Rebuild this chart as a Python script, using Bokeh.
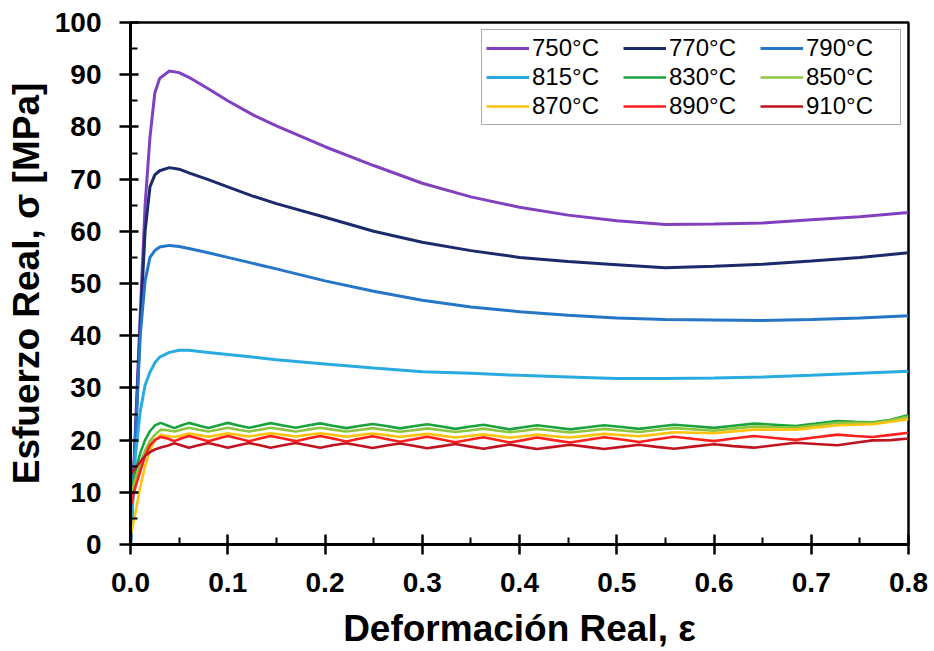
from bokeh.plotting import figure
from bokeh.models import FixedTicker, Legend, LegendItem, Range1d, NumeralTickFormatter
from bokeh.embed import file_html
from bokeh.resources import INLINE

# ---------------- data ----------------
x_ticks = [0.0, 0.1, 0.2, 0.3, 0.4, 0.5, 0.6, 0.7, 0.8]
x_minor = [0.05, 0.15, 0.25, 0.35, 0.45, 0.55, 0.65, 0.75]
y_ticks = [0, 10, 20, 30, 40, 50, 60, 70, 80, 90, 100]
y_minor = [5, 15, 25, 35, 45, 55, 65, 75, 85, 95]

labels = ["750°C", "770°C", "790°C", "815°C", "830°C", "850°C", "870°C", "890°C", "910°C"]
colors = ["#8040c0", "#1b2a6b", "#2575c8", "#29abe2", "#1aa33c", "#8cc63f", "#ffc20e", "#ff1e1e", "#c1121f"]

strain_hi = [0, 0.005, 0.01, 0.015, 0.02, 0.025, 0.03, 0.04, 0.05, 0.06, 0.08, 0.1, 0.125,
             0.15, 0.2, 0.25, 0.3, 0.35, 0.4, 0.45, 0.5, 0.55, 0.6, 0.65, 0.7, 0.75, 0.8]
s750 = [0, 22, 44, 65, 78, 86.5, 89.3, 90.7, 90.4, 89.5, 87.3, 85.0, 82.4, 80.2, 76.2, 72.6,
        69.2, 66.6, 64.6, 63.1, 62.0, 61.3, 61.4, 61.6, 62.2, 62.8, 63.6]
s770 = [0, 20, 42, 60, 68.5, 70.8, 71.6, 72.2, 71.9, 71.2, 69.9, 68.5, 66.8, 65.3, 62.7, 60.0,
        57.9, 56.3, 55.0, 54.2, 53.6, 53.0, 53.3, 53.7, 54.3, 55.0, 55.9]
s790 = [0, 20, 40, 50.5, 55.0, 56.3, 57.0, 57.3, 57.1, 56.7, 55.9, 55.0, 53.9, 52.8, 50.5, 48.5,
        46.8, 45.5, 44.6, 43.9, 43.4, 43.1, 43.0, 42.9, 43.1, 43.4, 43.8]
s815 = [0, 17, 25.5, 30.5, 33.0, 34.8, 35.9, 36.8, 37.2, 37.2, 36.8, 36.4, 35.9, 35.4, 34.6, 33.8,
        33.1, 32.8, 32.4, 32.1, 31.8, 31.8, 31.9, 32.1, 32.4, 32.8, 33.2]

strain_lo = [0, 0.005, 0.01, 0.015, 0.02, 0.025,
             0.031, 0.038, 0.045, 0.052, 0.06, 0.07, 0.08, 0.09, 0.10, 0.111, 0.122, 0.133,
             0.144, 0.157, 0.17, 0.182, 0.195, 0.208, 0.222, 0.235, 0.249, 0.263, 0.277, 0.291,
             0.305, 0.32, 0.334, 0.348, 0.363, 0.376, 0.39, 0.404, 0.418, 0.435, 0.452, 0.47,
             0.487, 0.505, 0.523, 0.541, 0.559, 0.58, 0.60, 0.62, 0.641, 0.662, 0.684, 0.705,
             0.727, 0.745, 0.763, 0.782, 0.80]
s830 = [9.5, 14, 17.5, 20, 21.7, 22.8,
        23.3, 22.8, 22.3, 22.8, 23.3, 22.8, 22.3, 22.8, 23.3, 22.8, 22.35, 22.8,
        23.25, 22.8, 22.35, 22.8, 23.2, 22.75, 22.3, 22.7, 23.1, 22.7, 22.25, 22.65,
        23.05, 22.6, 22.15, 22.55, 22.95, 22.5, 22.05, 22.45, 22.85, 22.45, 22.05, 22.45,
        22.85, 22.5, 22.15, 22.55, 22.95, 22.65, 22.35, 22.75, 23.15, 22.95, 22.7, 23.15,
        23.65, 23.5, 23.4, 23.9, 24.8]
s850 = [9.0, 12.5, 15.5, 18.0, 19.8, 21.0,
        22.0, 21.9, 21.65, 22.0, 22.35, 22.0, 21.65, 22.0, 22.35, 22.0, 21.65, 22.0,
        22.35, 22.0, 21.65, 22.0, 22.35, 22.0, 21.65, 21.95, 22.3, 21.95, 21.6, 21.9,
        22.25, 21.9, 21.55, 21.85, 22.2, 21.85, 21.5, 21.8, 22.15, 21.8, 21.45, 21.8,
        22.15, 21.85, 21.55, 21.95, 22.3, 22.05, 21.8, 22.2, 22.6, 22.5, 22.4, 22.85,
        23.3, 23.3, 23.3, 23.8, 24.5]
s870 = [1.5, 6, 11, 15, 18, 20,
        21.0, 20.8, 20.6, 20.9, 21.25, 20.95, 20.65, 20.95, 21.3, 21.0, 20.7, 21.0,
        21.3, 21.0, 20.7, 21.0, 21.3, 21.0, 20.65, 20.95, 21.25, 20.95, 20.6, 20.9,
        21.2, 20.85, 20.5, 20.8, 21.1, 20.8, 20.45, 20.75, 21.05, 20.75, 20.5, 20.85,
        21.2, 20.95, 20.75, 21.1, 21.5, 21.4, 21.3, 21.65, 22.0, 22.0, 22.0, 22.4,
        22.85, 22.95, 23.05, 23.5, 24.0]
s890 = [7.3, 11, 14, 17, 19, 20,
        20.6, 20.3, 19.8, 20.3, 20.8, 20.3, 19.8, 20.3, 20.8, 20.3, 19.8, 20.3,
        20.8, 20.3, 19.8, 20.3, 20.8, 20.3, 19.75, 20.25, 20.75, 20.2, 19.7, 20.15,
        20.65, 20.1, 19.6, 20.05, 20.55, 20.05, 19.55, 20.0, 20.5, 20.0, 19.55, 20.05,
        20.55, 20.1, 19.65, 20.15, 20.65, 20.2, 19.8, 20.3, 20.8, 20.4, 20.05, 20.55,
        21.05, 20.8, 20.6, 21.0, 21.4]
s910 = [13.4, 14.6, 15.8, 17.0, 17.7, 18.2,
        18.6, 18.9, 19.4, 19.0, 18.55, 19.0, 19.45, 19.0, 18.55, 19.0, 19.45, 19.0,
        18.55, 19.0, 19.45, 19.0, 18.55, 19.0, 19.4, 18.95, 18.5, 18.95, 19.35, 18.9,
        18.45, 18.85, 19.25, 18.8, 18.35, 18.75, 19.15, 18.7, 18.3, 18.7, 19.1, 18.7,
        18.3, 18.7, 19.1, 18.7, 18.35, 18.8, 19.2, 18.85, 18.55, 19.0, 19.5, 19.25,
        19.0, 19.5, 19.95, 20.0, 20.3]

series_x = [strain_hi, strain_hi, strain_hi, strain_hi, strain_lo, strain_lo, strain_lo, strain_lo, strain_lo]
series_y = [s750, s770, s790, s815, s830, s850, s870, s890, s910]
widths = [3, 3, 3, 3, 2.6, 2.6, 2.6, 2.6, 2.6]

# ---------------- figure ----------------
FONT = "Liberation Sans"
p = figure(width=934, height=651, output_backend="svg", toolbar_location=None,
           x_range=Range1d(0, 0.8), y_range=Range1d(0, 100),
           min_border_left=130, min_border_right=26, min_border_top=22, min_border_bottom=106)
p.xgrid.visible = False
p.ygrid.visible = False
p.outline_line_color = "black"
p.outline_line_width = 2.5
p.outline_line_alpha = 1.0
p.background_fill_color = "white"
p.border_fill_color = "white"

items = []
for lab, col, xs, ys, w in zip(labels, colors, series_x, series_y, widths):
    r = p.line(xs, ys, line_color=col, line_width=w)
    items.append(LegendItem(label=lab, renderers=[r]))

p.xaxis.ticker = FixedTicker(ticks=x_ticks, minor_ticks=x_minor)
p.yaxis.ticker = FixedTicker(ticks=y_ticks, minor_ticks=y_minor)
p.xaxis.formatter = NumeralTickFormatter(format="0.0")

for ax in (p.xaxis[0], p.yaxis[0]):
    ax.axis_line_width = 3
    ax.axis_line_color = "black"
    ax.major_tick_line_width = 2.5
    ax.major_tick_line_color = "black"
    ax.minor_tick_line_width = 2
    ax.minor_tick_line_color = "black"
    ax.minor_tick_in = 7
    ax.minor_tick_out = 0
    ax.major_label_text_font = FONT
    ax.major_label_text_font_style = "bold"
    ax.major_label_text_font_size = "28px"
    ax.major_label_text_color = "black"
    ax.axis_label_text_font = FONT
    ax.axis_label_text_font_style = "bold"
    ax.axis_label_text_font_size = "37px"
    ax.axis_label_text_color = "black"

p.xaxis.major_tick_in = 10
p.xaxis.major_tick_out = 10
p.xaxis.major_label_standoff = 18
p.xaxis.axis_label = "Deformación Real, ε"
p.xaxis.axis_label_standoff = 13

p.yaxis.major_tick_in = 8
p.yaxis.major_tick_out = 11
p.yaxis.major_label_standoff = 18
p.yaxis.axis_label = "Esfuerzo Real, σ [MPa]"
p.yaxis.axis_label_standoff = 5

legend = Legend(items=items, location="top_right", orientation="horizontal", ncols=3,
                label_text_font=FONT, label_text_font_size="24px", label_text_color="black",
                glyph_width=43, glyph_height=20, label_standoff=3, label_width=90,
                spacing=1, padding=4, margin=7,
                border_line_color="#555555", border_line_width=1.5,
                background_fill_color="white", background_fill_alpha=1.0)
p.add_layout(legend, "center")

open("out.html", "w").write(file_html(p, INLINE))
